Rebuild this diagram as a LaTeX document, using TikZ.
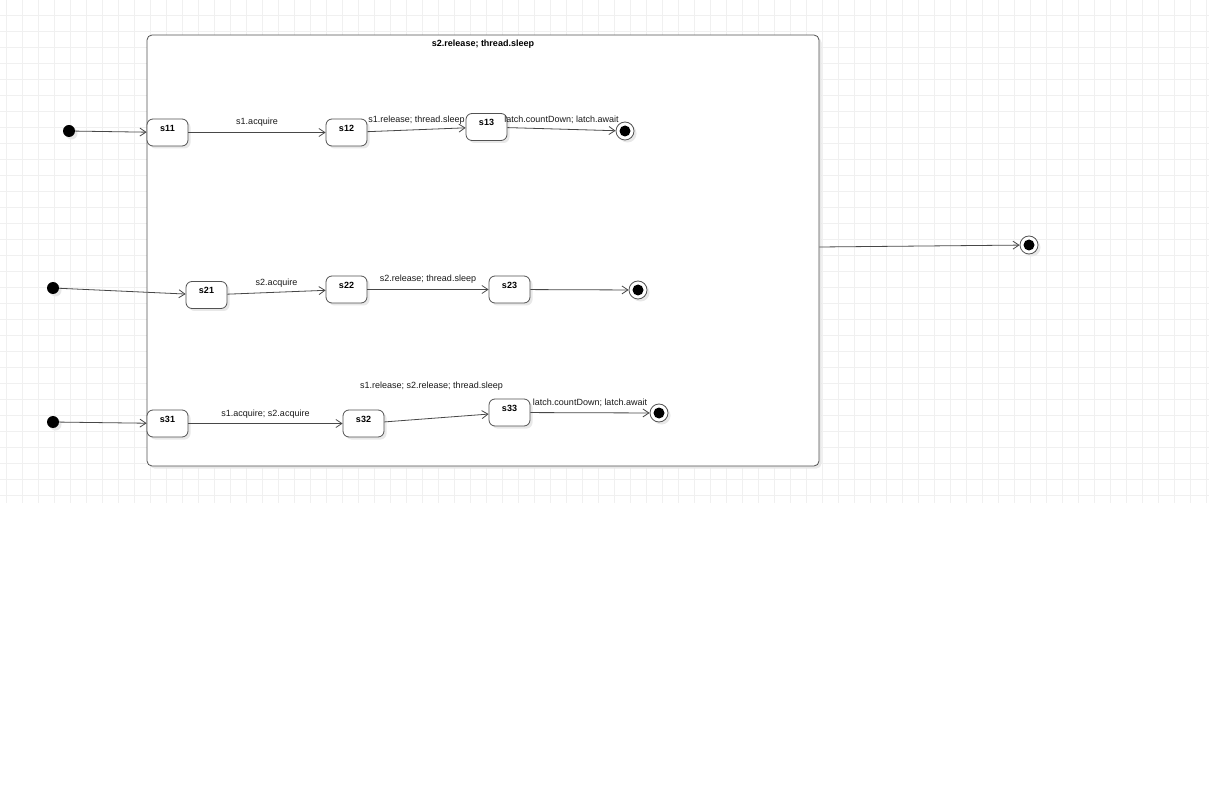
\documentclass[tikz,border=0pt]{standalone}
\usepackage{fontspec}
\setmainfont{Liberation Sans}
\usetikzlibrary{shapes, arrows.meta, positioning, calc, shadows}

\begin{document}
\begin{tikzpicture}[x=1pt, y=-1pt, font=\fontsize{9}{10}\selectfont,
    gridline/.style={black!6, line width=0.6pt},
    shade box/.style={drop shadow={shadow xshift=2.5pt, shadow yshift=-2.5pt, fill=black!9, opacity=1}},
    state/.style={draw=black!68, line width=0.8pt, fill=white, rounded corners=6pt, minimum width=41pt, minimum height=27pt,
      text height=7pt, text depth=9pt, inner sep=0pt, font=\fontsize{9}{10}\selectfont\bfseries, shade box},
    start/.style={circle, fill=black, minimum size=12pt, inner sep=0pt, shade box},
    stop/.style={circle, draw=black!68, line width=0.8pt, fill=white, minimum size=18pt, inner sep=0pt, shade box,
      path picture={\fill[black] (path picture bounding box.center) circle (5.5pt);}},
    trans/.style={draw=black!72, line width=0.8pt, -{Straight Barb[length=6pt, width=8pt]}},
    act/.style={text=black!90, inner sep=1.5pt}]
    \useasboundingbox (0,0) rectangle (1209,791);

    % Grid
    \foreach \gx in {6.7,22.7,...,1209} \draw[gridline] (\gx,0) -- (\gx,503);
    \foreach \gy in {15.3,31.3,...,503} \draw[gridline] (0,\gy) -- (1209,\gy);

    % Composite state
    \node[state, rounded corners=5pt, minimum width=672pt, minimum height=431pt, text height=0pt, text depth=0pt] (sys) at (483,250.5) {};
    \node[font=\fontsize{9}{10}\selectfont\bfseries] (systitle) at (483,44) {s2.release; thread.sleep};

    % States
    \node[state] (s11) at (167.5,132.5) {s11};
    \node[state] (s12) at (346.5,132.5) {s12};
    \node[state] (s13) at (486.5,127) {s13};
    \node[state] (s21) at (206.5,295) {s21};
    \node[state] (s22) at (346.5,289.5) {s22};
    \node[state] (s23) at (509.5,289.5) {s23};
    \node[state] (s31) at (167.5,423.5) {s31};
    \node[state] (s32) at (363.5,423.5) {s32};
    \node[state] (s33) at (509.5,412.5) {s33};

    % Pseudo states
    \node[start] (i1) at (69,131) {};
    \node[start] (i2) at (53,288) {};
    \node[start] (i3) at (53,422) {};
    \node[stop] (f1) at (625,131) {};
    \node[stop] (f2) at (638,290) {};
    \node[stop] (f3) at (659,413) {};
    \node[stop] (f4) at (1029,245) {};

    % Transitions
    \draw[trans] (i1) -- (s11);
    \draw[trans] (s11) -- (s12) node[act, midway, above=4pt] (t1) {s1.acquire};
    \draw[trans] (s12) -- (s13) node[act, midway, above=3pt] (t2) {s1.release; thread.sleep};
    \draw[trans] (s13) -- (f1) node[act, midway, above=4pt] (t3) {latch.countDown; latch.await};

    \draw[trans] (i2) -- (s21);
    \draw[trans] (s21) -- (s22) node[act, midway, above=3pt] (t4) {s2.acquire};
    \draw[trans] (s22) -- (s23) node[act, midway, above=4pt] (t5) {s2.release; thread.sleep};
    \draw[trans] (s23) -- (f2);

    \draw[trans] (i3) -- (s31);
    \draw[trans] (s31) -- (s32) node[act, midway, above=3pt] (t6) {s1.acquire; s2.acquire};
    \draw[trans] (s32) -- (s33) node[act, midway, above=26pt, xshift=-5pt] (t7) {s1.release; s2.release; thread.sleep};
    \draw[trans] (s33) -- (f3) node[act, midway, above=4pt] (t8) {latch.countDown; latch.await};

    \draw[trans] ([yshift=3.5pt]sys.east) -- (f4);
\end{tikzpicture}
\end{document}
